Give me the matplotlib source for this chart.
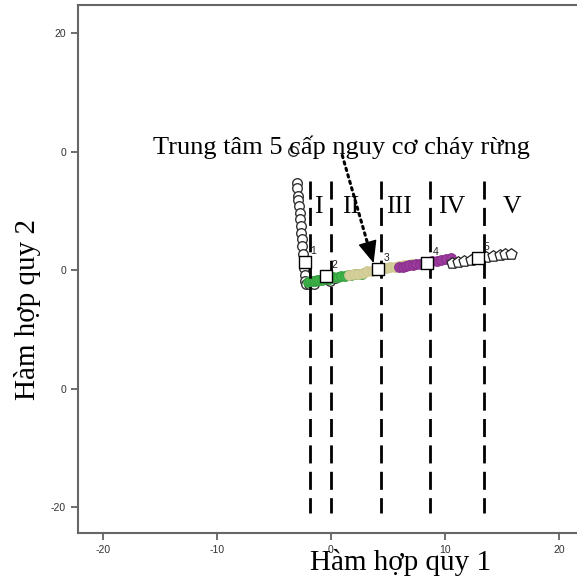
import matplotlib
matplotlib.use("Agg")
import matplotlib.pyplot as plt
import numpy as np

# ---- data ----
g1_x = [-3.3, -3.0, -2.95, -2.9, -2.85, -2.8, -2.75, -2.7, -2.65, -2.6, -2.55, -2.5, -2.45, -2.4, -2.35, -2.3, -2.25, -2.2, -1.9, -1.5, -0.1, 0.4]
g1_y = [10.1, 7.4, 6.9, 6.3, 5.9, 5.4, 4.8, 4.3, 3.7, 3.1, 2.6, 2.0, 1.4, 0.8, 0.2, -0.4, -0.9, -1.2, -1.2, -1.15, -0.9, -0.7]
g2_x = [-2.0, -1.8, -1.6, -1.4, -1.2, -1.0, -0.8, -0.5, -0.2, 0.2, 0.6, 0.9, 1.2, 1.5, 1.8, 2.1, 2.4, 2.7]
g2_y = [-1.0, -0.95, -0.9, -0.95, -0.85, -0.8, -0.85, -0.7, -0.75, -0.6, -0.55, -0.5, -0.5, -0.45, -0.4, -0.35, -0.35, -0.3]
g3_x = [1.6, 2.0, 2.4, 2.8, 3.2, 3.6, 4.0, 4.4, 4.8, 5.2, 5.6, 6.0, 6.4, 6.8, 7.1]
g3_y = [-0.45, -0.35, -0.3, -0.2, -0.1, -0.05, 0.05, 0.1, 0.2, 0.25, 0.3, 0.35, 0.4, 0.45, 0.5]
g4_x = [6.0, 6.3, 6.6, 6.9, 7.2, 7.5, 7.8, 8.1, 8.5, 8.9, 9.3, 9.7, 10.1, 10.5]
g4_y = [0.25, 0.3, 0.35, 0.4, 0.45, 0.5, 0.55, 0.6, 0.65, 0.75, 0.8, 0.85, 0.95, 1.0]
g5_x = [10.6, 11.2, 11.7, 12.3, 13.0, 13.6, 14.2, 14.8, 15.3, 15.8]
g5_y = [0.6, 0.7, 0.8, 0.9, 1.0, 1.1, 1.2, 1.3, 1.35, 1.4]
cent_x = [-2.3, -0.45, 4.1, 8.4, 12.9]
cent_y = [0.7, -0.5, 0.1, 0.6, 1.0]
cent_labels = ["1", "2", "3", "4", "5"]
cut_x = [-1.84, 0.05, 4.4, 8.7, 13.4]
class_labels = ["I", "II", "III", "IV", "V"]
class_x = [-1.1, 1.7, 6.0, 10.6, 15.9]
x_ticks = [-20, -10, 0, 10, 20]
x_ticklabels = ["-20", "-10", "0", "10", "20"]
y_ticks = [20, 10, 0, -10, -20]
y_ticklabels = ["20", "0", "0", "0", "-20"]
title_text = "Trung tâm 5 cấp nguy cơ cháy rừng"
xlabel = "Hàm hợp quy 1"
ylabel = "Hàm hợp quy 2"

fig = plt.figure(figsize=(5.77, 5.85), dpi=100)
ax = fig.add_axes([0.135, 0.0889, 0.865, 0.9026])
ax.set_xlim(-22.2, 21.6)
ax.set_ylim(-22.2, 22.4)

serif = ["Liberation Serif", "DejaVu Serif"]
sans = ["Liberation Sans", "DejaVu Sans"]

s = 48
ax.scatter(g1_x, g1_y, s=s, facecolors="white", edgecolors="#333333", linewidths=1.0, zorder=3)
ax.scatter(g2_x, g2_y, s=s, facecolors="#3fb54a", edgecolors="#35a040", linewidths=0.8, zorder=3)
ax.scatter(g3_x, g3_y, s=s, facecolors="#d5cf9c", edgecolors="#cfc890", linewidths=0.8, zorder=3)
ax.scatter(g4_x, g4_y, s=s, facecolors="#9c3b9e", edgecolors="#8a2f8c", linewidths=0.8, zorder=3)
ax.scatter(g5_x, g5_y, s=70, marker="p", facecolors="white", edgecolors="#222222", linewidths=0.9, zorder=3)

for xc in cut_x:
    ax.plot([xc, xc], [7.5, -20.5], color="black", lw=2.0, dashes=(6.5, 3), zorder=4)

ax.scatter(cent_x, cent_y, s=85, marker="s", facecolors="white", edgecolors="black", linewidths=1.0, zorder=5)
for cx, cy, lab in zip(cent_x, cent_y, cent_labels):
    ax.text(cx + 0.5, cy + 0.7, lab, fontsize=7.5, family=sans, color="#222222", zorder=6)

for xc, lab in zip(class_x, class_labels):
    ax.text(xc, 5.3, lab, fontsize=18.5, family=serif, ha="center", va="center", zorder=6)

# dotted shaft + filled head
ax.annotate("", xy=(3.3, 2.0), xytext=(1.0, 9.7),
            arrowprops=dict(arrowstyle="-", color="black", lw=2.2,
                            linestyle=(0, (0.8, 1.4)), shrinkA=0, shrinkB=0), zorder=6)
ax.annotate("", xy=(3.75, 0.6), xytext=(3.2, 2.4),
            arrowprops=dict(arrowstyle="-|>,head_length=1.4,head_width=0.6", color="black",
                            lw=1.0, shrinkA=0, shrinkB=0), zorder=6)
ax.text(0.9, 10.4, title_text, fontsize=19, family=serif, ha="center", va="center", zorder=6)

ax.set_xticks(x_ticks)
ax.set_xticklabels(x_ticklabels)
ax.set_yticks(y_ticks)
ax.set_yticklabels(y_ticklabels)
ax.tick_params(direction="out", length=5, width=1.2, color="#555555", labelsize=7.5,
               labelcolor="#333333")
for lab in ax.get_xticklabels() + ax.get_yticklabels():
    lab.set_family(sans)
ax.spines["right"].set_visible(False)
for sp in ["left", "bottom", "top"]:
    ax.spines[sp].set_color("#666666")
    ax.spines[sp].set_linewidth(1.5)

fig.text(401 / 577, 1 - 563 / 585, xlabel, fontsize=21, family=serif, ha="center", va="center")
fig.text(28 / 577, 1 - 310 / 585, ylabel, fontsize=21, family=serif, ha="center", va="center", rotation=90)

fig.savefig("out.png", dpi=100)
